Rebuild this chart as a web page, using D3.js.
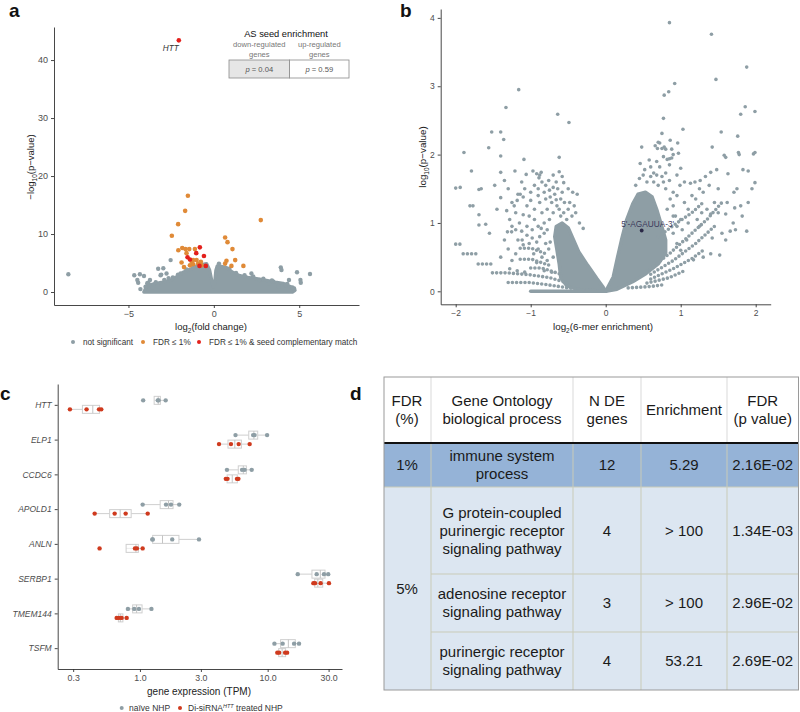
<!DOCTYPE html>
<html><head><meta charset="utf-8">
<script src="https://cdn.jsdelivr.net/npm/d3@7"></script>
<style>
body{margin:0;background:#fff;}
svg{font-family:"Liberation Sans",Arial,Helvetica,sans-serif;}
</style></head><body>
<svg id="chart" width="800" height="712"></svg>
<script>
// ================= DATA =================
// ---- Panel a: volcano plot (log2 fold change vs -log10 p) ----
const aGrayPoints = [
 [-8.52,3.05],[-4.66,2.9],[-4.33,3.05],[-4.09,2.75],[-4.43,1.6],[-3.84,1.6],[-3.08,3.0],[-2.96,4.1],
 [-3.26,4.0],[-2.53,5.5],[-3.55,1.2],[-3.12,2.9],[-2.77,3.2],[-4.48,2.07],[-3.74,2.07],[-3.3,1.0],
 [-3.6,0.8],[-4.0,0.9],[3.92,4.25],[3.96,3.8],[4.87,3.4],[5.63,3.1],[5.07,2.07],[5.09,1.6],[4.4,2.07],
 [2.2,3.2],[3.47,1.8],[2.69,2.07],[3.23,1.5],[4.2,1.2],[3.8,1.0],[4.6,0.8],
 [-3.9,1.5],[-3.4,1.7],[-2.9,2.1],[-2.4,2.5],[-2.1,3.0],[-1.6,3.9],[-1.2,4.3],[0.3,4.9],[0.9,4.0],
 [1.3,3.3],[1.8,2.9],[2.3,2.7],[2.9,2.3],[3.4,2.0],[4.3,1.4],[4.7,0.6],[-4.3,0.5],[-2.65,2.4],[-1.95,3.2]
];
// outline of the dense cloud of non-significant genes
const aGrayCloud = [
 [-4.1,0],[-3.9,1.1],[-3.5,1.4],[-3.0,1.7],[-2.57,2.0],[-2.2,2.6],[-1.8,3.4],[-1.4,3.9],[-1.0,4.5],
 [-0.7,4.7],[-0.43,4.9],[-0.25,3.8],[-0.12,1.9],[-0.04,0.9],[0.05,1.5],[0.12,3.7],[0.2,4.5],[0.45,4.4],
 [0.74,4.2],[1.1,3.4],[1.52,2.8],[2.0,2.5],[2.5,2.3],[3.08,2.0],[3.6,1.7],[4.05,1.5],[4.5,0.9],
 [4.75,0.3],[4.6,0],[2.5,0],[0,0],[-2.5,0],[-4.0,0]
];
const aOrangePoints = [
 [-1.52,16.6],[-1.68,14.0],[-2.09,11.7],[-2.46,9.7],[2.75,12.4],[0.66,9.4],[0.80,8.6],[1.09,7.4],
 [1.25,5.5],[0.74,5.4],[1.03,4.5],[1.73,4.5],[0.66,4.9],[-2.08,7.2],[-1.85,7.6],[-1.66,7.4],
 [-1.44,7.4],[-1.11,7.4],[-1.89,5.1],[-1.75,4.3],[-1.3,5.2],[-1.21,5.5],[-1.01,5.5],[-0.92,4.9],
 [-0.76,5.2],[-1.21,4.8],[-0.72,4.6],[-1.4,4.6],[-1.6,6.7]
];
const aRedPoints = [
 [-2.05,43.4],[-0.82,7.7],[-1.03,6.7],[-0.58,6.2],[-1.54,6.0],[-1.40,5.6],[-0.84,4.5],[-0.47,4.5]
];
const aHighlightLabel = {x:-2.05, y:43.4, text:"HTT"};
const aXTicks = [-5,0,5];
const aYTicks = [0,10,20,30,40];
const aLegend = ["not significant","FDR ≤ 1%","FDR ≤ 1% & seed complementary match"];
const aSeedTitle = "AS seed enrichment";
const aSeedHeaders = [["down-regulated","genes"],["up-regulated","genes"]];
const aSeedP = ["0.04","0.59"];

// ---- Panel b: 6-mer enrichment ----
const bPoints = [
 [-1.89,2.03],[-1.56,2.10],[-1.52,2.33],[-1.40,2.33],[-1.36,2.22],[-1.40,1.98],[-1.33,2.69],[-1.16,2.95],
 [-1.09,1.93],[-0.64,2.59],[-0.49,2.47],[-1.79,1.76],[-2.0,1.51],[-1.94,1.52],[-1.69,1.49],[-1.66,1.50],
 [-1.40,1.74],[-1.35,1.62],[-1.21,1.76],[-1.06,1.71],[-0.97,1.76],[-0.92,1.72],[-0.88,1.70],[-0.86,1.74],
 [-0.89,1.66],[-0.62,1.96],[-0.56,1.59],[-0.38,1.42],[-1.40,1.37],[-1.17,1.42],[-1.14,1.42],[-1.81,1.25],
 [-1.77,1.25],[-1.69,1.12],[-1.69,0.97],[-1.60,0.98],[-1.55,0.85],
 [-1.25,1.30],[-1.18,1.33],[-1.1,1.38],[-1.05,1.25],[-1.0,1.45],[-0.95,1.55],[-0.9,1.5],[-0.85,1.6],
 [-0.8,1.55],[-0.75,1.48],[-0.7,1.52],[-0.68,1.42],[-0.72,1.3],[-0.8,1.35],[-0.88,1.3],[-0.95,1.2],
 [-1.02,1.1],[-1.1,1.12],[-1.2,1.15],[-1.28,1.05],[-1.15,1.0],[-1.05,0.95],[-0.95,1.05],[-0.85,1.15],
 [-0.78,1.2],[-0.7,1.15],[-0.65,1.25],[-0.6,1.35],[-0.55,1.3],[-0.5,1.2],[-0.45,1.1],[-0.52,1.05],
 [-0.6,1.1],[-0.9,0.95],[-0.98,0.9],[-0.82,1.0],[-0.75,1.05],[-0.66,1.6],[-0.58,1.68],[-0.5,1.5],
 [-0.44,1.45],[-0.62,1.75],[-0.7,1.7],[-0.35,1.0],[-0.3,0.92],
 [-1.25,0.95],[-1.2,0.9],[-1.12,0.88],[-1.05,0.82],[-0.98,0.78],[-0.92,0.72],[-0.88,0.8],[-0.82,0.85],
 [-0.8,0.7],[-0.76,0.62],[-0.9,0.62],[-0.85,0.5],[-0.78,0.45],[-0.92,0.42],[-0.96,0.55],[-1.02,0.7],
 [-1.1,0.68],[-1.2,0.55],[-1.25,0.45],[-1.3,0.62],[-1.35,0.75],[-1.4,0.5],[-1.28,0.33],[-1.18,0.3],
 [-1.08,0.28],[-0.82,0.3],[-0.72,0.28],[-0.7,0.5],[-0.74,0.72],[-0.78,0.9],[-0.86,0.92],
 [-0.74,1.38],[-0.66,1.34],[-0.62,1.2],[-0.56,1.15],[-0.48,1.3],[-0.42,1.25],[-0.4,1.15],[-0.58,1.45],
 [-0.64,1.5],[-0.76,1.62],[-0.82,1.45],[-0.9,1.4],[-1.0,1.33],[-1.08,1.5],[-1.12,1.6],[-1.3,1.5],
 [-1.48,1.55],[-1.45,1.2],[-1.32,1.18],[-1.22,1.25],
 [0.85,3.93],[1.41,3.76],[1.47,3.10],[1.88,3.28],[0.92,3.04],[0.84,2.92],[0.78,2.87],[0.77,2.53],
 [1.03,2.37],[0.75,2.31],[0.86,2.21],[0.96,2.17],[0.70,2.18],[0.72,2.17],[0.66,2.13],[0.78,2.11],
 [0.69,2.09],[0.75,2.09],[0.80,2.08],[0.88,2.08],[0.48,2.11],[0.97,2.02],[0.77,1.97],[0.88,1.95],
 [0.85,1.94],[1.86,2.70],[1.80,2.59],[1.99,2.63],[1.54,2.33],[1.76,2.27],[1.42,2.11],[1.77,2.03],
 [1.58,1.99],[1.99,2.03],[1.97,2.01],
 [0.46,1.87],[0.58,1.92],[0.60,1.82],[0.68,1.9],[0.72,1.82],[0.64,1.73],[0.75,1.68],[0.80,1.73],
 [0.82,1.93],[0.85,1.85],[0.9,2.0],[0.64,1.6],[0.77,1.6],[0.55,1.6],[0.5,1.7],
 [0.99,1.55],[1.13,1.58],[1.19,1.6],[1.26,1.62],[1.33,1.68],[1.4,1.74],[1.48,1.78],[1.6,1.96],
 [1.78,2.0],[1.90,1.76],[1.83,1.78],[1.99,1.59],[1.63,1.72],[1.71,1.45],[1.75,1.5],[1.8,1.25],
 [1.72,1.22],[1.6,1.13],[1.4,1.13],[1.55,0.85],[1.66,0.88],[1.73,0.9],[1.52,0.53],[1.17,0.46],
 [1.05,1.3],[1.1,1.2],[0.95,1.4],[0.9,1.25],[1.2,1.35],[1.3,1.45],[1.0,1.05],[0.93,1.1],[1.35,1.2],
 [1.45,1.3],[1.25,0.95],
 [0.4,1.55],[0.45,1.65],[0.52,1.78],[0.6,1.68],[0.7,1.55],[0.68,1.7],[0.8,1.5],[0.85,1.62],
 [0.9,1.45],[0.95,1.7],[1.0,1.8],[1.05,1.6],[0.86,1.35],[0.82,1.2],[0.9,1.1],[0.95,0.95],[1.02,0.9],
 [1.1,1.0],[1.08,0.75],[1.22,1.05],[1.28,1.15],[1.15,1.4],[1.25,1.5],[1.38,1.55],[1.5,1.5],[1.5,1.15],
 [1.62,1.3],[1.7,1.0],[1.82,1.1],[1.88,0.88],[1.9,1.3],[1.95,1.5],[1.42,0.78],[1.6,0.75],[1.3,0.5],
 [1.4,0.55],[1.0,0.6],[0.95,0.7],[0.9,0.85]
];
// outlines of the two dense arms of the V
const bCoreLeft = [
 [0,0],[-0.35,0.02],[-0.52,0.08],[-0.6,0.2],[-0.62,0.4],[-0.65,0.6],[-0.68,0.8],[-0.66,0.95],
 [-0.58,1.0],[-0.5,0.93],[-0.44,0.78],[-0.36,0.58],[-0.24,0.38],[-0.12,0.19],[-0.04,0.07]
];
const bCoreRight = [
 [0,0],[0.1,0.21],[0.16,0.51],[0.21,0.75],[0.28,1.05],[0.36,1.28],[0.43,1.42],[0.53,1.45],[0.62,1.38],
 [0.68,1.2],[0.74,0.98],[0.8,0.75],[0.8,0.56],[0.7,0.4],[0.54,0.26],[0.36,0.14],[0.15,0.03]
];
// visible rows / streaks of overlapping points
const bStreaksSolid = [
 [[-1.0,0],[0,0]]
];
const bStreaksDotted = [
 [[-1.30,0.13],[-1.03,0.13],[-0.8,0.1],[-0.5,0.05],[-0.2,0.01]],
 [[-1.51,0.27],[-1.31,0.27],[-1.0,0.24],[-0.75,0.2],[-0.5,0.12]],
 [[-1.70,0.40],[-1.53,0.40]],
 [[-1.0,0.34],[-0.85,0.34],[-0.6,0.25]],
 [[-1.90,0.55],[-1.73,0.55]],
 [[-2.0,0.69],[-1.89,0.69]],
 [[-1.14,0.47],[-0.99,0.47],[-0.75,0.38]],
 [[-1.14,0.63],[-0.99,0.63],[-0.8,0.55]],
 [[-1.17,0.75],[-1.09,0.75]],
 [[-1.31,0.87],[-1.24,0.87]],
 [[0.55,0.30],[0.85,0.55],[1.15,0.85],[1.35,1.05],[1.55,1.3]],
 [[0.6,0.25],[0.9,0.45],[1.2,0.7],[1.45,0.95]],
 [[0.6,0.18],[0.9,0.33],[1.15,0.48],[1.3,0.6]],
 [[0.55,0.12],[0.85,0.2],[1.05,0.3]],
 [[0.3,0.05],[0.6,0.07],[0.8,0.1]],
 [[0.7,0.8],[0.95,1.0],[1.15,1.15],[1.3,1.3]]
];
const bHighlight = {x:0.48, y:0.89, label:"5'-AGAUUA-3'"};
const bXTicks = [-2,-1,0,1,2];
const bYTicks = [0,1,2,3,4];

// ---- Panel c: gene expression (TPM) ----
const cGenes = ["HTT","ELP1","CCDC6","APOLD1","ANLN","SERBP1","TMEM144","TSFM"];
const cNaive = [
 [1.06,1.38,1.40,1.59],[5.6,7.7,7.9,9.9],[4.8,6.3,6.6,7.5],[1.05,1.60,1.75,2.03],
 [1.25,1.26,1.79,2.90],[17.2,24.2,27.6,29.8],[0.805,0.902,0.982,1.23],[11.3,13.1,16.1,17.6]
];
const cTreated = [
 [0.283,0.382,0.478,0.498],[4.16,5.16,5.93,7.23],[4.7,4.85,5.75,5.9],[0.442,0.634,0.773,1.15],
 [0.483,0.914,0.947,1.05],[22.8,23.5,26.0,30.2],[0.657,0.685,0.719,0.787],[11.9,12.3,13.7,14.2]
];
const cTicks = [0.3,1,3,10,30];
const cTickLabels = ["0.3","1.0","3.0","10.0","30.0"];

// ---- Panel d: GO enrichment table ----
const dHeaders = [["FDR","(%)"],["Gene Ontology","biological process"],["N DE","genes"],["Enrichment"],["FDR","(p value)"]];
const dFdrGroups = [{label:"1%", first:0, last:0},{label:"5%", first:1, last:3}];
const dProcesses = [["immune system","process"],["G protein-coupled","purinergic receptor","signaling pathway"],
  ["adenosine receptor","signaling pathway"],["purinergic receptor","signaling pathway"]];
const dNGenes = ["12","4","3","4"];
const dEnrichment = ["5.29","> 100","> 100","53.21"];
const dFdrP = ["2.16E-02","1.34E-03","2.96E-02","2.69E-02"];

// ================= DRAWING =================
const svg = d3.select("#chart");
const FONT = "'Liberation Sans', Arial, Helvetica, sans-serif";
const GRAY = "#8e9ea5", ORANGE = "#e08a37", RED_A = "#e3201c", RED_C = "#cf3a1e";
const AXIS = "#333", TT = "#4d4d4d";

function styleAxis(g, fs, italic){
  g.select(".domain").attr("stroke", AXIS).attr("stroke-width", 0.9);
  g.selectAll(".tick line").attr("stroke", AXIS).attr("stroke-width", 0.9);
  g.selectAll(".tick text").attr("fill", TT).style("font-size", fs + "px")
    .style("font-family", FONT).style("font-style", italic ? "italic" : "normal");
}

// panel letters
[{t:"a",x:9,y:17},{t:"b",x:400,y:17},{t:"c",x:0,y:400},{t:"d",x:350,y:400}].forEach(p=>{
  svg.append("text").attr("x",p.x).attr("y",p.y).text(p.t)
    .style("font-size","19px").style("font-weight","bold").attr("fill","#111");
});

// ---------- Panel a ----------
const xA = d3.scaleLinear().domain([-9.36, 8.5]).range([54, 359]);
const yA = d3.scaleLinear().domain([-2.24, 45.7]).range([305, 27]);
const gA = svg.append("g");
gA.append("g").attr("transform","translate(0,305)")
  .call(d3.axisBottom(xA).tickValues(aXTicks).tickSize(3).tickSizeOuter(0).tickPadding(3).tickFormat(d3.format("d")))
  .call(g=>styleAxis(g,9));
gA.append("g").attr("transform","translate(54,0)")
  .call(d3.axisLeft(yA).tickValues(aYTicks).tickSize(3).tickSizeOuter(0).tickPadding(3).tickFormat(d3.format("d")))
  .call(g=>styleAxis(g,9));
const lineA = d3.line().x(d=>xA(d[0])).y(d=>yA(d[1])).curve(d3.curveLinearClosed);
gA.append("path").datum(aGrayCloud).attr("d",lineA).attr("fill",GRAY).attr("stroke",GRAY)
  .attr("stroke-width",3.4).attr("stroke-linejoin","round");
gA.selectAll("circle.g").data(aGrayPoints).join("circle").attr("class","g")
  .attr("cx",d=>xA(d[0])).attr("cy",d=>yA(d[1])).attr("r",2.2).attr("fill",GRAY);
gA.selectAll("circle.o").data(aOrangePoints).join("circle").attr("class","o")
  .attr("cx",d=>xA(d[0])).attr("cy",d=>yA(d[1])).attr("r",2.3).attr("fill",ORANGE);
gA.selectAll("circle.r").data(aRedPoints).join("circle").attr("class","r")
  .attr("cx",d=>xA(d[0])).attr("cy",d=>yA(d[1])).attr("r",2.3).attr("fill",RED_A);
gA.append("text").attr("x",xA(aHighlightLabel.x)-8).attr("y",yA(aHighlightLabel.y)+11)
  .attr("text-anchor","middle").style("font-size","8.2px").style("font-style","italic").attr("fill","#333")
  .text(aHighlightLabel.text);
// axis titles
const axA = gA.append("text").attr("x",211).attr("y",330).attr("text-anchor","middle")
  .style("font-size","9.5px").attr("fill","#222");
axA.append("tspan").text("log");
axA.append("tspan").attr("dy",2.5).style("font-size","6.5px").text("2");
axA.append("tspan").attr("dy",-2.5).text("(fold change)");
const ayA = gA.append("text").attr("transform","translate(34,167) rotate(-90)").attr("text-anchor","middle")
  .style("font-size","9.5px").attr("fill","#222");
ayA.append("tspan").text("−log");
ayA.append("tspan").attr("dy",2.5).style("font-size","6.5px").text("10");
ayA.append("tspan").attr("dy",-2.5).text("(p−value)");
// legend
const legA = [{c:GRAY,x:73},{c:ORANGE,x:143},{c:RED_A,x:199}];
legA.forEach((l,i)=>{
  gA.append("circle").attr("cx",l.x).attr("cy",342).attr("r",2).attr("fill",l.c);
  gA.append("text").attr("x",l.x+10).attr("y",345).style("font-size","8.2px").attr("fill","#333").text(aLegend[i]);
});
// seed enrichment inset
gA.append("text").attr("x",286).attr("y",37).attr("text-anchor","middle").style("font-size","9.3px")
  .attr("fill","#111").text(aSeedTitle);
const seedX = [229, 289.6, 349];
aSeedHeaders.forEach((h,i)=>{
  const cx = (seedX[i]+seedX[i+1])/2;
  h.forEach((s,j)=>gA.append("text").attr("x",cx).attr("y",47+j*9.5).attr("text-anchor","middle")
    .style("font-size","7.6px").attr("fill","#777").text(s));
  gA.append("rect").attr("x",seedX[i]).attr("y",60).attr("width",seedX[i+1]-seedX[i]).attr("height",18)
    .attr("fill", i===0 ? "#e6e6e6" : "#fff").attr("stroke","#8a8a8a").attr("stroke-width",0.8);
  const t = gA.append("text").attr("x",cx).attr("y",72).attr("text-anchor","middle")
    .style("font-size","7.6px").attr("fill","#555");
  t.append("tspan").style("font-style","italic").text("p");
  t.append("tspan").text(" = " + aSeedP[i]);
});

// ---------- Panel b ----------
const xB = d3.scaleLinear().domain([-2.2, 2.2]).range([440.7, 770.7]);
const yB = d3.scaleLinear().domain([-0.19, 4.13]).range([304.3, 9]);
const gB = svg.append("g");
gB.append("g").attr("transform","translate(0,304.3)")
  .call(d3.axisBottom(xB).tickValues(bXTicks).tickSize(3).tickSizeOuter(0).tickPadding(3).tickFormat(d3.format("d")))
  .call(g=>styleAxis(g,8.5));
gB.append("g").attr("transform","translate(440.7,0)")
  .call(d3.axisLeft(yB).tickValues(bYTicks).tickSize(3).tickSizeOuter(0).tickPadding(3).tickFormat(d3.format("d")))
  .call(g=>styleAxis(g,8.5));
const lineBc = d3.line().x(d=>xB(d[0])).y(d=>yB(d[1])).curve(d3.curveLinearClosed);
const lineB = d3.line().x(d=>xB(d[0])).y(d=>yB(d[1]));
gB.selectAll("path.core").data([bCoreLeft,bCoreRight]).join("path").attr("class","core")
  .attr("d",lineBc).attr("fill",GRAY).attr("stroke",GRAY).attr("stroke-width",3.4).attr("stroke-linejoin","round");
gB.selectAll("path.ss").data(bStreaksSolid).join("path").attr("class","ss").attr("d",lineB)
  .attr("fill","none").attr("stroke",GRAY).attr("stroke-width",3.6).attr("stroke-linecap","round");
gB.selectAll("path.sd").data(bStreaksDotted).join("path").attr("class","sd").attr("d",lineB)
  .attr("fill","none").attr("stroke",GRAY).attr("stroke-width",3.6).attr("stroke-linecap","round")
  .attr("stroke-dasharray","0 4.2");
gB.selectAll("circle.p").data(bPoints).join("circle").attr("class","p")
  .attr("cx",d=>xB(d[0])).attr("cy",d=>yB(d[1])).attr("r",1.8).attr("fill",GRAY);
gB.append("circle").attr("cx",xB(bHighlight.x)).attr("cy",yB(bHighlight.y)).attr("r",1.9).attr("fill","#2a2846");
gB.append("text").attr("x",xB(bHighlight.x)+6).attr("y",yB(bHighlight.y)-3.5).attr("text-anchor","middle")
  .style("font-size","8.3px").attr("fill","#2f2b50").attr("fill-opacity",0.9).text(bHighlight.label);
const axB = gB.append("text").attr("x",603).attr("y",330).attr("text-anchor","middle")
  .style("font-size","9.8px").attr("fill","#222");
axB.append("tspan").text("log");
axB.append("tspan").attr("dy",2.5).style("font-size","6.5px").text("2");
axB.append("tspan").attr("dy",-2.5).text("(6-mer enrichment)");
const ayB = gB.append("text").attr("transform","translate(426,157) rotate(-90)").attr("text-anchor","middle")
  .style("font-size","9.8px").attr("fill","#222");
ayB.append("tspan").text("log");
ayB.append("tspan").attr("dy",2.5).style("font-size","6.5px").text("10");
ayB.append("tspan").attr("dy",-2.5).text("(p−value)");

// ---------- Panel c ----------
const xC = d3.scaleLog().domain([0.227, 38.2]).range([57.7, 342]);
const yC = d3.scalePoint().domain(cGenes).range([384, 669]).padding(0.6);
const gC = svg.append("g");
gC.append("g").attr("transform","translate(0,669)")
  .call(d3.axisBottom(xC).tickValues(cTicks).tickSize(3).tickSizeOuter(0).tickPadding(3)
    .tickFormat((d,i)=>cTickLabels[i]))
  .call(g=>styleAxis(g,8.8));
gC.append("g").attr("transform","translate(57.7,0)")
  .call(d3.axisLeft(yC).tickSize(3).tickSizeOuter(0).tickPadding(3))
  .call(g=>styleAxis(g,8.5,true));
const groups = [{vals:cNaive, color:GRAY, off:-4.5},{vals:cTreated, color:RED_C, off:4.5}];
const boxes = [], pts = [];
cGenes.forEach((gene,i)=>{
  groups.forEach(gr=>{
    const lv = gr.vals[i].map(Math.log10).sort(d3.ascending);
    const q1 = d3.quantile(lv,0.25), med = d3.quantile(lv,0.5), q3 = d3.quantile(lv,0.75);
    const iqr = q3-q1;
    const lo = d3.min(lv.filter(v=>v>=q1-1.5*iqr)), hi = d3.max(lv.filter(v=>v<=q3+1.5*iqr));
    const cy = yC(gene)+gr.off;
    boxes.push({cy, q1:10**q1, med:10**med, q3:10**q3, lo:10**lo, hi:10**hi});
    gr.vals[i].forEach(v=>pts.push({v, cy, color:gr.color}));
  });
});
const BOXC = "#cfcfcf";
boxes.forEach(b=>{
  gC.append("line").attr("x1",xC(b.lo)).attr("x2",xC(b.q1)).attr("y1",b.cy).attr("y2",b.cy).attr("stroke",BOXC);
  gC.append("line").attr("x1",xC(b.q3)).attr("x2",xC(b.hi)).attr("y1",b.cy).attr("y2",b.cy).attr("stroke",BOXC);
  gC.append("rect").attr("x",xC(b.q1)).attr("y",b.cy-4).attr("width",Math.max(0.5,xC(b.q3)-xC(b.q1)))
    .attr("height",8).attr("fill","#fff").attr("fill-opacity",0.6).attr("stroke",BOXC);
  gC.append("line").attr("x1",xC(b.med)).attr("x2",xC(b.med)).attr("y1",b.cy-4).attr("y2",b.cy+4).attr("stroke","#c4c4c4");
});
gC.selectAll("circle.pt").data(pts).join("circle").attr("class","pt")
  .attr("cx",d=>xC(d.v)).attr("cy",d=>d.cy).attr("r",2.2).attr("fill",d=>d.color);
gC.append("text").attr("x",199).attr("y",695).attr("text-anchor","middle").style("font-size","10px")
  .attr("fill","#222").text("gene expression (TPM)");
gC.append("circle").attr("cx",121.7).attr("cy",708).attr("r",2).attr("fill",GRAY);
gC.append("text").attr("x",129).attr("y",711).style("font-size","8.5px").attr("fill","#333").text("naïve NHP");
gC.append("circle").attr("cx",180).attr("cy",708).attr("r",2).attr("fill",RED_C);
const legC = gC.append("text").attr("x",188).attr("y",711).style("font-size","8.5px").attr("fill","#333");
legC.append("tspan").text("Di-siRNA");
legC.append("tspan").attr("dy",-3.5).style("font-size","5.5px").style("font-style","italic").text("HTT");
legC.append("tspan").attr("dy",3.5).text(" treated NHP");

// ---------- Panel d ----------
const colX = [384, 431, 573, 641, 727, 798.5];
const rowY = [377, 443, 487, 574, 632, 690];
const gD = svg.append("g").style("font-size","15px");
gD.append("rect").attr("x",colX[0]).attr("y",rowY[0]).attr("width",colX[5]-colX[0]).attr("height",rowY[1]-rowY[0]).attr("fill","#fff");
gD.append("rect").attr("x",colX[0]).attr("y",rowY[1]).attr("width",colX[5]-colX[0]).attr("height",rowY[2]-rowY[1]).attr("fill","#95b3d7");
gD.append("rect").attr("x",colX[0]).attr("y",rowY[2]).attr("width",colX[5]-colX[0]).attr("height",rowY[5]-rowY[2]).attr("fill","#dce6f1");
// grid lines
colX.slice(1,5).forEach(x=>{
  gD.append("line").attr("x1",x).attr("x2",x).attr("y1",rowY[0]).attr("y2",rowY[1]).attr("stroke","#d9d9d9");
  gD.append("line").attr("x1",x).attr("x2",x).attr("y1",rowY[1]).attr("y2",rowY[5]).attr("stroke","#c9cbb8");
});
gD.append("line").attr("x1",colX[0]).attr("x2",colX[5]).attr("y1",rowY[2]).attr("y2",rowY[2]).attr("stroke","#c9cbb8");
[rowY[3],rowY[4]].forEach(y=>gD.append("line").attr("x1",colX[1]).attr("x2",colX[5]).attr("y1",y).attr("y2",y).attr("stroke","#c9cbb8"));
gD.append("line").attr("x1",colX[0]).attr("x2",colX[5]).attr("y1",rowY[1]).attr("y2",rowY[1]).attr("stroke","#111").attr("stroke-width",2);
gD.append("rect").attr("x",colX[0]).attr("y",rowY[0]).attr("width",colX[5]-colX[0]).attr("height",rowY[5]-rowY[0])
  .attr("fill","none").attr("stroke","#9a9a9a").attr("stroke-width",1);
function cellText(lines, cx, cy){
  const LH = 18.3;
  lines.forEach((s,i)=>{
    gD.append("text").attr("x",cx).attr("y",cy+(i-(lines.length-1)/2)*LH+5.3)
      .attr("text-anchor","middle").attr("fill","#1a1a1a").text(s);
  });
}
const colC = d3.range(5).map(i=>(colX[i]+colX[i+1])/2);
colC[0] = 407;
dHeaders.forEach((h,i)=>cellText(h, colC[i], (rowY[0]+rowY[1])/2));
dFdrGroups.forEach(g=>cellText([g.label], colC[0], (rowY[g.first+1]+rowY[g.last+2])/2));
dProcesses.forEach((p,i)=>{
  const cy = (rowY[i+1]+rowY[i+2])/2;
  cellText(p, colC[1], cy);
  cellText([dNGenes[i]], colC[2], cy);
  cellText([dEnrichment[i]], colC[3], cy);
  cellText([dFdrP[i]], colC[4], cy);
});
</script>
</body></html>
